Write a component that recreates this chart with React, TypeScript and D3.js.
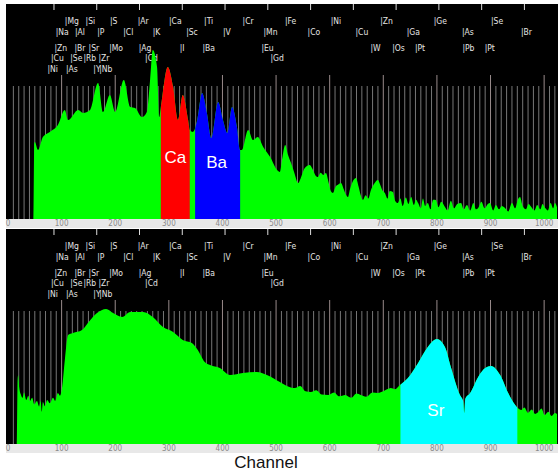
import React from "react";
import * as d3 from "d3";

// ---------- data ----------
const CHANNEL_MAX = 1024;
const axisTicks = [0, 100, 200, 300, 400, 500, 600, 700, 800, 900, 1000];
const energyTicksKeV = [1, 2, 3, 4, 5, 6, 7, 8, 9, 10, 11, 12];
const CAL_OFFSET = -0.075; // keV
const CAL_GAIN = 0.012536; // keV per channel

// element marker labels: [symbol, keV, row]
const elementLabels: [string, number, number][] = [
  ["Mg", 1.254, 0], ["Si", 1.74, 0], ["S", 2.31, 0], ["Ar", 2.96, 0], ["Ca", 3.69, 0], ["Ti", 4.51, 0],
  ["Cr", 5.41, 0], ["Fe", 6.4, 0], ["Ni", 7.47, 0], ["Zn", 8.63, 0], ["Ge", 9.88, 0], ["Se", 11.22, 0],
  ["Na", 1.04, 1], ["Al", 1.49, 1], ["P", 2.01, 1], ["Cl", 2.62, 1], ["K", 3.31, 1], ["Sc", 4.09, 1],
  ["V", 4.95, 1], ["Mn", 5.9, 1], ["Co", 6.93, 1], ["Cu", 8.05, 1], ["Ga", 9.25, 1], ["As", 10.54, 1], ["Br", 11.92, 1],
  ["Zn", 1.01, 2], ["Br", 1.48, 2], ["Sr", 1.81, 2], ["Mo", 2.29, 2], ["Ag", 2.98, 2], ["I", 3.94, 2], ["Ba", 4.47, 2],
  ["Eu", 5.85, 2], ["W", 8.4, 2], ["Os", 8.91, 2], ["Pt", 9.44, 2], ["Pb", 10.55, 2], ["Pt", 11.07, 2],
  ["Cu", 0.93, 3], ["Se", 1.38, 3], ["Rb", 1.69, 3], ["Zr", 2.04, 3], ["Cd", 3.13, 3], ["Gd", 6.06, 3],
  ["Ni", 0.85, 4], ["As", 1.28, 4], ["Y", 1.92, 4], ["Nb", 2.06, 4],
];

// top spectrum: channels and counts
const topChannels = [
  0, 48, 49, 50, 56, 65, 78, 93, 106, 112, 131, 140, 153, 168, 177, 190, 200, 216, 228, 237, 250, 259, 265, 270,
  278, 282, 285, 298, 308, 317, 326, 336, 339, 345, 353, 362, 371, 379, 392, 401, 409, 418, 427, 433, 436, 448,
  457, 466, 476, 489, 502, 507, 512, 517, 522, 528, 534, 541, 546, 552, 557, 563, 568, 573, 578, 583, 588, 593,
  598, 602, 606, 611, 616, 621, 626, 630, 634, 638, 643, 649, 654, 658, 662, 667, 672, 677, 682, 686, 690, 694,
  698, 703, 708, 712, 718, 722, 727, 732, 736, 742, 747, 752, 757, 761, 765, 770, 774, 778, 783, 788, 793, 798,
  803, 808, 815, 820, 826, 832, 838, 845, 850, 856, 862, 868, 873, 877, 883, 889, 895, 899, 905, 910, 916, 921,
  927, 933, 940, 946, 951, 955, 960, 966, 971, 976, 982, 987, 993, 997, 1002, 1007, 1012, 1017, 1020, 1024,
];
const topCounts = [
  0, 0, 353, 358, 321, 381, 405, 437, 507, 460, 507, 493, 507, 633, 498, 577, 498, 646, 521, 516, 474, 498, 646, 786,
  707, 474, 521, 707, 614, 460, 577, 460, 414, 405, 460, 586, 493, 377, 544, 460, 400, 521, 428, 321, 321, 414,
  367, 381, 335, 288, 228, 219, 290, 344, 300, 260, 215, 167, 190, 230, 245, 251, 232, 205, 195, 215, 205, 214,
  170, 130, 121, 150, 160, 167, 140, 115, 102, 140, 175, 191, 150, 110, 88, 110, 95, 135, 160, 175, 181, 160,
  135, 121, 95, 130, 126, 85, 74, 95, 60, 100, 70, 102, 65, 90, 74, 50, 95, 60, 74, 45, 90, 88,
  55, 80, 56, 40, 85, 50, 70, 74, 45, 65, 40, 75, 45, 51, 80, 50, 70, 74, 40, 65, 45, 60,
  51, 35, 75, 50, 90, 102, 60, 45, 70, 56, 40, 65, 45, 70, 51, 40, 75, 50, 74, 55,
];

// bottom spectrum: channels and counts
const bottomChannels = [
  0, 17, 18, 19, 21, 24, 27, 30, 34, 38, 41, 45, 49, 54, 58, 61, 63, 65, 69, 73, 78, 84, 88, 93, 97, 101, 106, 112,
  121, 138, 149, 166, 183, 196, 213, 228, 252, 270, 289, 308, 326, 343, 354, 367, 377, 395, 414, 438, 464, 483,
  507, 520, 535, 545, 555, 565, 575, 585, 597, 608, 618, 629, 640, 650, 658, 668, 680, 690, 700, 714, 722, 731,
  746, 765, 783, 800, 815, 826, 843, 849, 851, 853, 862, 877, 890, 901, 918, 933, 946, 952, 957, 963, 970, 977,
  983, 989, 995, 1001, 1008, 1014, 1020, 1024,
];
const bottomCounts = [
  0, 0, 300, 321, 260, 230, 215, 240, 205, 225, 200, 215, 185, 200, 175, 200, 150, 195, 175, 205, 190, 215, 200, 237, 225, 265, 391, 507,
  516, 530, 563, 609, 628, 609, 591, 614, 614, 591, 544, 521, 484, 470, 437, 381, 367, 353, 321, 330, 335, 321,
  288, 270, 260, 270, 245, 242, 250, 230, 228, 240, 222, 228, 215, 235, 228, 220, 240, 237, 245, 260, 255, 274,
  307, 377, 451, 488, 451, 358, 228, 200, 144, 210, 237, 312, 353, 363, 321, 237, 181, 165, 158, 170, 145, 160,
  140, 149, 165, 135, 150, 130, 144, 140,
];

// regions of interest: [label, startChannel, endChannel, labelChannel, color]
const topROIs: [string, number, number, number, string][] = [
  ["Ca", 285, 339, 312, "#ff0000"],
  ["Ba", 349, 433, 389, "#0000ff"],
];
const bottomROIs: [string, number, number, number, string][] = [["Sr", 732, 950, 798, "#00ffff"]];

// ---------- layout ----------
const W = 558;
const H = 472;
const panelX0 = 6;
const panels = [
  { top: 4, bottom: 219, channels: topChannels, counts: topCounts, rois: topROIs, id: "p1" },
  { top: 229, bottom: 444, channels: bottomChannels, counts: bottomCounts, rois: bottomROIs, id: "p2" },
];
const STRIP_H = 9;
const LABEL_FONT = "'Liberation Sans Narrow', 'DejaVu Sans Condensed', 'Liberation Sans', Arial, sans-serif";
const rowBaselines = [24, 34.5, 50.5, 61, 72];
const roiLabelLift: Record<string, number> = { Ca: 56, Ba: 51, Sr: 28 };

const x = d3.scaleLinear().domain([0, CHANNEL_MAX]).range([8, 557]);
const keVToChannel = (e: number) => (e - CAL_OFFSET) / CAL_GAIN;

function Panel({ p }: { p: (typeof panels)[number] }) {
  const y = d3.scaleLinear().domain([0, 1000]).range([p.bottom, p.top]);
  const data = p.channels.map((c, i) => [c, p.counts[i]] as [number, number]);
  const area = d3
    .area<[number, number]>()
    .x((d) => x(d[0]))
    .y0(p.bottom)
    .y1((d) => y(d[1]))
    .curve(d3.curveMonotoneX);
  const path = area(data) || "";
  const grid = d3.range(10, CHANNEL_MAX, 10);
  return (
    <g>
      <rect x={panelX0} y={p.top} width={W - panelX0} height={p.bottom - p.top} fill="#000" />
      {grid.map((c) => (
        <line
          key={c}
          x1={x(c)}
          x2={x(c)}
          y1={p.top + (c % 100 === 0 ? 71 : 82)}
          y2={p.bottom}
          stroke={c % 100 === 0 ? "#b4a4a4" : "#8c8c8c"}
          strokeWidth={1}
          opacity={0.85}
        />
      ))}
      {energyTicksKeV.map((e) => (
        <line key={e} x1={x(keVToChannel(e))} x2={x(keVToChannel(e))} y1={p.top} y2={p.top + 6} stroke="#ddd" strokeWidth={1} />
      ))}
      {elementLabels.map(([s, e, r], i) => (
        <text
          key={i}
          x={x(keVToChannel(e))}
          y={p.top - 4 + rowBaselines[r]}
          fontFamily={LABEL_FONT}
          fontSize={8.5}
          fill="#e6e6e6"
        >
          {"|" + s}
        </text>
      ))}
      <defs>
        {p.rois.map(([l, a, b]) => (
          <clipPath key={l} id={`${p.id}-${l}`}>
            <rect x={x(a)} y={p.top} width={x(b) - x(a)} height={p.bottom - p.top} />
          </clipPath>
        ))}
      </defs>
      <path d={path} fill="#00ff00" />
      {p.rois.map(([l, , , , col]) => (
        <path key={l} d={path} fill={col} clipPath={`url(#${p.id}-${l})`} />
      ))}
      {p.rois.map(([l, , , lc]) => (
        <text
          key={"t" + l}
          x={x(lc)}
          y={p.bottom - roiLabelLift[l]}
          textAnchor="middle"
          fontFamily="'Liberation Sans', Arial, sans-serif"
          fontSize={17}
          fill="#fff"
        >
          {l}
        </text>
      ))}
      <rect x={panelX0} y={p.bottom} width={W - panelX0} height={STRIP_H} fill="#e8e8e8" />
      {axisTicks.map((t) => (
        <text
          key={t}
          x={x(t)}
          y={p.bottom + 7}
          textAnchor="middle"
          fontFamily={LABEL_FONT}
          fontSize={8}
          fill="#8a8a8a"
        >
          {t}
        </text>
      ))}
    </g>
  );
}

export default function App() {
  return (
    <svg width={W} height={H} style={{ position: "absolute", left: 0, top: 0, background: "#fff" }}>
      {panels.map((p) => (
        <Panel key={p.id} p={p} />
      ))}
      <text
        x={266}
        y={468.3}
        textAnchor="middle"
        fontFamily="'Liberation Sans', Arial, sans-serif"
        fontSize={17}
        fill="#111"
      >
        Channel
      </text>
    </svg>
  );
}
